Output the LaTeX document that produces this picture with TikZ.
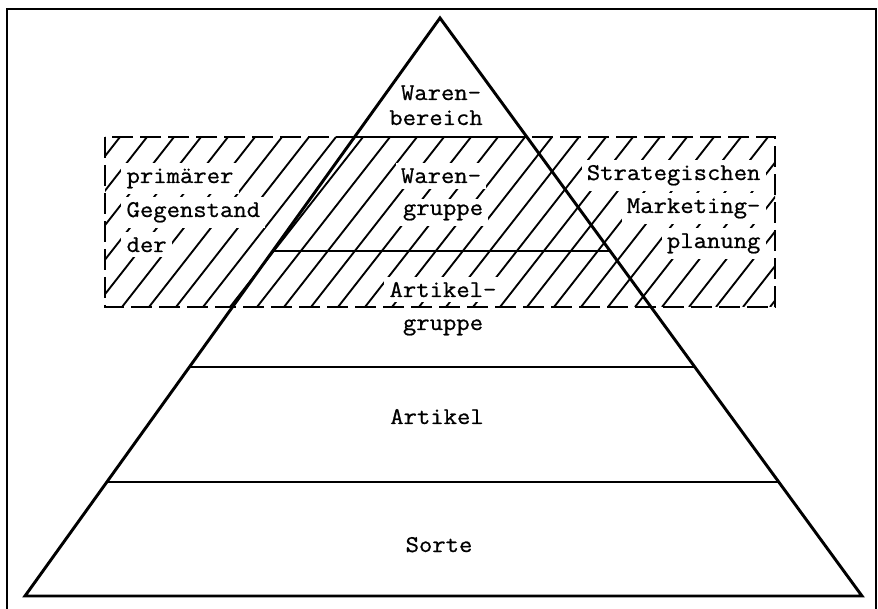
\documentclass[tikz,border=0pt]{standalone}
\usepackage{fontspec}
\setmonofont[FakeStretch=1.08,FakeBold=0.8]{Latin Modern Mono}
\usetikzlibrary{calc}

\begin{document}
\begin{tikzpicture}[
    x=0.75pt, y=-0.75pt,
    font=\ttfamily\fontsize{18}{20}\selectfont,
    edge/.style={line width=2.2pt, line join=miter},
    level/.style={line width=1.8pt},
    frame/.style={line width=1.6pt},
    hatch/.style={line width=1.4pt},
    zone/.style={line width=2pt, dash pattern=on 16pt off 5pt},
    lbl/.style={inner sep=0pt, anchor=base},
    gap/.style={lbl, fill=white, inner sep=4pt}
]
\useasboundingbox (0,0) rectangle (878,609);

% outer frame
\draw[frame] (7,615) -- (7,9) -- (876,9) -- (876,615);

% hatched zone
\begin{scope}
  \clip (105,137) rectangle (775,307);
  \foreach \x in {-40,-13,...,790}
    \draw[hatch] (\x,307) -- ++(133,-170);
\end{scope}

% labels
\node[lbl] (wb1) at (441,100) {Waren-};
\node[lbl] (wb2) at (436,125) {bereich};
\node[gap] (wg1) at (441,183) {Waren-};
\node[gap] (wg2) at (443,215) {gruppe};
\node[gap, anchor=base west] (pg1) at (121,183) {primärer};
\node[gap, anchor=base west] (pg2) at (121,217) {Gegenstand};
\node[gap, anchor=base west] (pg3) at (121,252) {der};
\node[gap, anchor=base east] (sm1) at (766,180) {Strategischen};
\node[gap, anchor=base east] (sm2) at (766,213) {Marketing-};
\node[gap, anchor=base east] (sm3) at (766,248) {planung};
\node[gap] (ag1) at (443,297) {Artikel-};
\node[lbl] (ag2) at (443,330) {gruppe};
\node[lbl] (art) at (437,424) {Artikel};
\node[lbl] (srt) at (439,552) {Sorte};

% pyramid
\coordinate (top) at (440,18);
\coordinate (bl) at (25,596);
\coordinate (br) at (862,596);
\draw[edge] (top) -- (bl) -- (br) -- cycle;
\foreach \t in {0.2059,0.4031,0.6038,0.8028}
  \draw[level] ($(top)!\t!(bl)$) -- ($(top)!\t!(br)$);

% dashed zone border
\draw[zone] (105,137) rectangle (775,307);
\end{tikzpicture}
\end{document}
